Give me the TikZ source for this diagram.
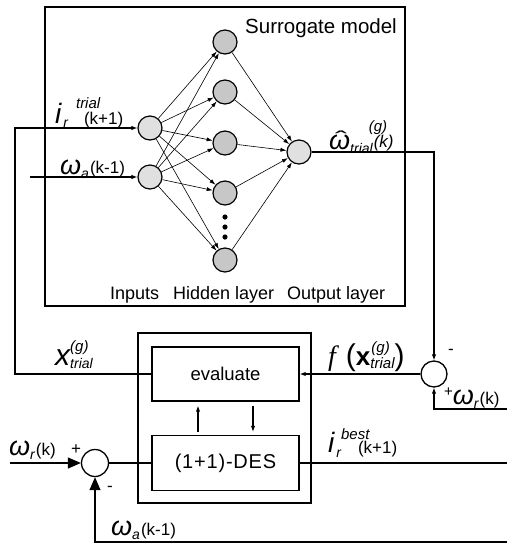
\documentclass[tikz,border=0pt]{standalone}
\usepackage{fontspec}
\usepackage{graphicx}
\setmainfont{Liberation Sans}
\newfontfamily\serifit{Liberation Serif}
\usetikzlibrary{arrows.meta}
\newcommand\fs[1]{\fontsize{#1}{#1}\selectfont}
\begin{document}
\begin{tikzpicture}[x=1pt,y=-1pt,
  box/.style={draw,line width=1.4pt,inner sep=0pt},
  nin/.style={circle,draw,line width=1.2pt,fill=black!12,minimum size=24pt,inner sep=0pt},
  nhid/.style={circle,draw,line width=1.2pt,fill=black!22,minimum size=24pt,inner sep=0pt},
  sumnode/.style={circle,draw,line width=1.3pt,fill=white,minimum size=26pt,inner sep=0pt},
  nnarr/.style={line width=0.6pt,-{Latex[length=6pt,width=4pt]}},
  conn/.style={line width=1.1pt},
  arr/.style={line width=1.1pt,-{Latex[length=6pt,width=4.5pt]}},
  bigarr/.style={line width=1.1pt,-{Triangle[length=13pt,width=11pt]}},
  lbl/.style={inner sep=0pt,anchor=base west},
  txt/.style={inner sep=0pt,font=\fs{18}}]
\useasboundingbox (0,0) rectangle (515,550);

% boxes
\node[box,minimum width=360pt,minimum height=299pt] (surr) at (225,156.5) {};
\node[txt,font=\fs{20.5},anchor=base east] (surrlbl) at (397,33) {Surrogate model};
\node[box,minimum width=173pt,minimum height=170pt] (desbox) at (224.5,418) {};
\node[box,minimum width=147pt,minimum height=54pt] (eval) at (225.5,374) {};
\node[txt,font=\fs{18.5}] (evaltxt) at (eval.center) {evaluate};
\node[box,minimum width=147pt,minimum height=55pt] (des) at (225.5,463) {};
\node[txt,font=\fs{20}\addfontfeatures{LetterSpace=4}] (destxt) at (des.center) {(1+1)-DES};

% neurons
\node[nin] (in1) at (150,128) {};
\node[nin] (in2) at (150,177) {};
\node[nhid] (h1) at (225,42) {};
\node[nhid] (h2) at (225,92) {};
\node[nhid] (h3) at (225,143) {};
\node[nhid] (h4) at (225,193) {};
\node[nhid] (h5) at (225,260) {};
\node[nin] (out) at (299,152) {};
\foreach \i in {in1,in2}{\foreach \h in {h1,h2,h3,h4,h5}{\draw[nnarr] (\i) -- (\h);}}
\foreach \h in {h1,h2,h3,h4,h5}{\draw[nnarr] (\h) -- (out);}
\fill (225,217) circle (2.6pt) (225,227) circle (2.6pt) (225,237) circle (2.6pt);

\node[txt,anchor=base west] (linp) at (110,299) {Inputs};
\node[txt,anchor=base west] (lhid) at (173,299) {Hidden layer};
\node[txt,anchor=base west] (lout) at (287,299) {Output layer};

% sums
\node[sumnode] (sum2) at (434,374) {};
\node[sumnode,minimum size=27pt] (sum1) at (95,463) {};

% coordinates
\coordinate (fbL) at (15,374);
\coordinate (in2src) at (30,177);
\coordinate (wrR) at (507,409);
\coordinate (wrL) at (10,463);
\coordinate (waR) at (507,542);
\coordinate (ibR) at (507,463);

% connectors
\draw[arr] (eval.west) -- (fbL) |- (in1);
\draw[arr] (in2src) -- (in2);
\draw[arr] (out) -| (sum2);
\draw[arr] (wrR) -| (sum2);
\draw[arr] (sum2) -- (eval);
\draw[bigarr] (wrL) -- (sum1);
\draw[bigarr] (waR) -| (sum1);
\draw[conn] (sum1) -- (des);
\draw[conn] (des) -- (ibR);
\draw[arr,shorten <=3pt,shorten >=4pt] ([xshift=-27.5pt]des.north) -- ([xshift=-27.5pt]eval.south);
\draw[arr,shorten <=4pt,shorten >=3pt] ([xshift=27.5pt]eval.south) -- ([xshift=27.5pt]des.north);

% labels
\node[lbl] (litrial) at (55,123) {{\fs{28}\itshape i}\hspace{2pt}\raisebox{-4pt}{\fs{14}\itshape r}\rlap{\raisebox{15pt}{\hspace{8pt}\fs{15}\itshape trial}}\hspace{16pt}\raisebox{-1pt}{\fs{17}(k+1)}};
\node[lbl] (lwa1) at (60,174) {{\fs{27}\itshape ω}\raisebox{-4pt}{\fs{14}\itshape a}\hspace{1pt}\raisebox{1pt}{\fs{17}(k-1)}};
\node[lbl] (lwhat) at (329,149) {\makebox[0pt][l]{\hspace{6pt}\raisebox{4pt}{\scalebox{1.8}[1]{\fs{20}ˆ}}}{\fs{27}\itshape ω}\raisebox{-4pt}{\fs{14}\itshape trial}\rlap{\raisebox{18pt}{\hspace{-4pt}\fs{15}\itshape (g)}}\hspace{1pt}\raisebox{2pt}{\fs{17}\itshape (k)}};
\node[lbl] (lxtrial) at (55,365) {{\fs{30}\itshape x}\rlap{\raisebox{14pt}{\hspace{0pt}\fs{15}\itshape (g)}}\raisebox{-3pt}{\fs{14}\itshape trial}};
\node[lbl] (lfx) at (328,365) {{\serifit\itshape\fs{28}f}\hspace{10pt}{\fs{30}(}{\fs{26}\bfseries x}\rlap{\raisebox{13pt}{\hspace{1pt}\fs{15}\itshape (g)}}\raisebox{-3pt}{\fs{15}\itshape trial}{\fs{30})}};
\node[txt,font=\fs{17}] (minus2) at (451,352) {-};
\node[lbl] (lwr2) at (444,404) {\raisebox{8pt}{\fs{15}+}{\fs{27}\itshape ω}\raisebox{-4pt}{\fs{14}\itshape r}\hspace{1pt}{\fs{17}(k)}};
\node[lbl] (lwr1) at (9,455) {{\fs{27}\itshape ω}\raisebox{-4pt}{\fs{14}\itshape r}\hspace{1pt}{\fs{17}(k)}};
\node[txt,font=\fs{17}] (plus1) at (76,450) {+};
\node[txt,font=\fs{17}] (minus1) at (110,489) {-};
\node[lbl] (lwa2) at (111,535) {{\fs{27}\itshape ω}\raisebox{-4pt}{\fs{14}\itshape a}\hspace{1pt}{\fs{17}(k-1)}};
\node[lbl] (libest) at (328,452) {{\fs{28}\itshape i}\hspace{2pt}\raisebox{-5pt}{\fs{14}\itshape r}\rlap{\raisebox{13pt}{\hspace{0pt}\fs{15}\itshape best}}\hspace{17pt}\raisebox{-1pt}{\fs{17}(k+1)}};
\end{tikzpicture}
\end{document}
